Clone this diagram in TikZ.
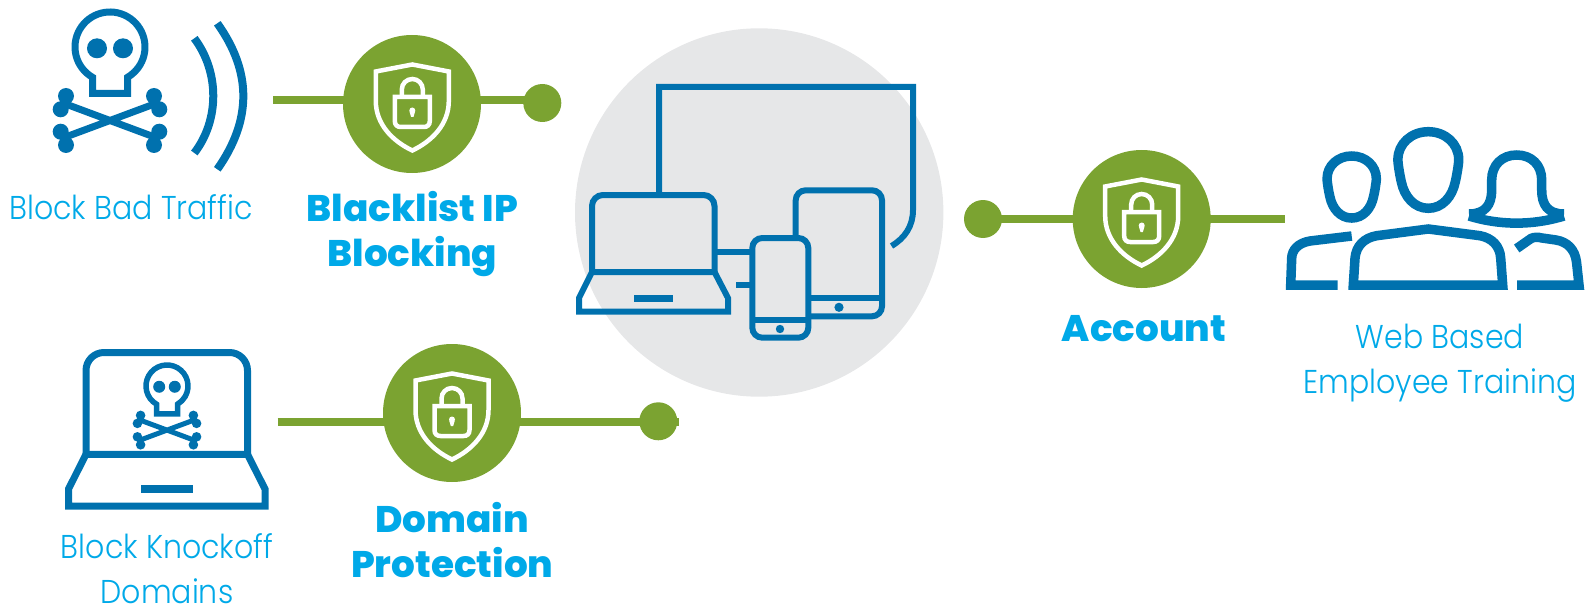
\documentclass[tikz,border=0pt]{standalone}
\usepackage{fontspec}
\setmainfont{Poppins Light}[FakeStretch=0.91]
\newfontfamily\boldface{Poppins ExtraBold}[FakeStretch=1.01]
\definecolor{iconblue}{HTML}{0071AE}
\definecolor{hubgreen}{HTML}{7BA331}
\definecolor{textblue}{HTML}{00A9E8}
\definecolor{disc}{HTML}{E6E7E8}
\tikzset{
  hub/.style={circle,fill=hubgreen,minimum size=138pt,inner sep=0pt},
  enddot/.style={circle,fill=hubgreen,minimum size=38pt,inner sep=0pt},
  link/.style={draw=hubgreen,line width=8pt,shorten <=-2pt,shorten >=-2pt},
  icon/.style={draw=iconblue,line width=6pt},
  person/.style={draw=iconblue,line width=9.5pt},
  thinlabel/.style={text=textblue,font=\fontsize{33}{45}\selectfont,align=center,inner sep=0pt,anchor=base},
  boldlabel/.style={text=textblue,font=\boldface\fontsize{37}{45}\selectfont,align=center,inner sep=0pt,anchor=base},
}
\newcommand\shieldlock[1]{
  \begin{scope}[shift={(#1)}]
    \draw[white,line width=4.5pt,miter limit=10] (0,-39.5) -- (36.5,-32.5) -- (36.5,-3)
      .. controls (36.5,20) and (20,37) .. (0,46.5)
      .. controls (-20,37) and (-36.5,20) .. (-36.5,-3) -- (-36.5,-32.5) -- cycle;
    \draw[white,line width=4.5pt] (-17.5,-7) -- (17.5,-7) -- (17.5,17)
      .. controls (17.5,21) and (15,23) .. (11.5,23) -- (-11.5,23)
      .. controls (-15,23) and (-17.5,21) .. (-17.5,17) -- cycle;
    \draw[white,line width=4.5pt] (-10.5,-7) -- (-10.5,-14.5) arc[start angle=180,end angle=360,radius=10.5] -- (10.5,-7);
    \fill[white] (0,6.5) circle[radius=3];
    \fill[white] (-2.8,7.5) -- (2.8,7.5) -- (1.2,13) -- (-1.2,13) -- cycle;
  \end{scope}
}
% x, y, scale, ring width, bone width
\newcommand\skullbones[5]{
  \begin{scope}[shift={(#1,#2)},scale=#3]
    \draw[draw=iconblue,line width=#4pt] (-17.5,30.3) arc[start angle=120,end angle=420,radius=35] -- (17.5,46.5) -- (-17.5,46.5) -- cycle;
    \fill[iconblue] (-13,1.3) circle[radius=10] (13,1.3) circle[radius=10];
    \draw[draw=iconblue,line width=#5pt] (-47,56) -- (47,91) (-47,91) -- (47,56);
    \fill[iconblue] (-44,49) circle[radius=8] (-49.3,62.3) circle[radius=8] (-49.3,84.7) circle[radius=8] (-44,98) circle[radius=8]
      (44,49) circle[radius=8] (49.3,62.3) circle[radius=8] (49.3,84.7) circle[radius=8] (44,98) circle[radius=8];
  \end{scope}
}
\newcommand\headshape[3]{
  \begin{scope}[shift={(#1,#2)},scale=#3]
    \draw[person] (0,0) .. controls (17,0) and (30.4,12) .. (30.4,28) .. controls (30.4,33) and (28,46) .. (27,50)
      .. controls (24,65) and (14,76.6) .. (0,76.6) .. controls (-14,76.6) and (-24,65) .. (-27,50)
      .. controls (-28,46) and (-30.4,33) .. (-30.4,28) .. controls (-30.4,12) and (-17,0) .. (0,0) -- cycle;
  \end{scope}
}
\begin{document}
\begin{tikzpicture}[x=1pt,y=-1pt]
\useasboundingbox (0,0) rectangle (1585,607);
% grey disc
\fill[disc] (759.2,212.5) circle[radius=184.2];
% top-left icon
\skullbones{110}{47}{1}{7}{7}
\draw[iconblue,line width=8pt] (194.3,38.3) .. controls (219.6,72) and (219.6,120) .. (194.3,153);
\draw[iconblue,line width=8pt] (217.3,23.3) .. controls (252,72) and (252,120) .. (217.3,169.3);
% bottom-left laptop
\draw[icon,line width=7pt,rounded corners=18pt] (86,454.3) -- (86,352.5) -- (247.5,352.5) -- (247.5,454.3);
\draw[icon,line width=7pt] (86,454.3) -- (247.5,454.3) -- (265,489) -- (265,506) -- (68.5,506) -- (68.5,489) -- cycle;
\fill[iconblue] (141.3,485.3) rectangle (192.7,492.7);
\skullbones{167}{386}{0.6}{5.5}{5}
% devices
\draw[icon] (659,195) -- (659,87) -- (913,87) -- (913,210) .. controls (913,226) and (905,238) .. (891.5,246);
\draw[icon,rounded corners=11pt] (592,272) -- (592,195) -- (714.5,195) -- (714.5,272);
\draw[icon] (592,272) -- (714.5,272) -- (728,298) -- (728,311.7) -- (579,311.7) -- (579,298) -- cycle;
\fill[iconblue] (634,295) rectangle (673,301.7);
\draw[icon] (717,252.3) -- (751.7,252.3) (736,285.3) -- (751.7,285.3);
\draw[icon,rounded corners=10pt] (752.3,238) rectangle (808.3,337.7);
\draw[icon] (752.3,320) -- (808.3,320);
\fill[iconblue] (780,329) circle[radius=4.2];
\draw[icon,rounded corners=10pt] (795.7,238) -- (795.7,190.3) -- (882,190.3) -- (882,316.3) -- (808.3,316.3);
\draw[icon] (808.3,297.7) -- (882,297.7);
\fill[iconblue] (839,307.3) circle[radius=4.6];
% hubs, dots and connectors
\node[hub] (hubA) at (412,104) {};
\node[enddot] (dotA) at (542.3,103) {};
\coordinate (startA) at (273.3,100.5);
\draw[link,shorten <=0pt] (startA) -- (startA -| hubA.west);
\draw[link] (hubA.east |- startA) -- (startA -| dotA.west);
\node[hub] (hubB) at (452,413) {};
\node[enddot] (dotB) at (658.3,421.3) {};
\coordinate (startB) at (277.7,421.5);
\coordinate (endB) at (679,421.5);
\draw[link,shorten <=0pt] (startB) -- (startB -| hubB.west);
\draw[link,shorten >=0pt] (hubB.east |- startB) -- (endB);
\node[hub] (hubC) at (1141.7,219) {};
\node[enddot] (dotC) at (983,219) {};
\coordinate (endC) at (1285,219);
\draw[link] (dotC) -- (hubC);
\draw[link,shorten >=0pt] (hubC.east) -- (endC);
\shieldlock{412.3,104}
\shieldlock{452,413}
\shieldlock{1141.7,219}
% people
\headshape{1351.7}{156}{0.81}
\headshape{1428.3}{131.7}{1}
\draw[person] (1469,214) .. controls (1485,214) and (1491.7,205) .. (1491.7,190) -- (1491.7,180)
  .. controls (1491.7,165) and (1502,155) .. (1516.7,155) .. controls (1531.4,155) and (1541.7,165) .. (1541.7,180)
  -- (1541.7,190) .. controls (1541.7,205) and (1548,214) .. (1564,214);
\draw[person] (1469,216) .. controls (1500,225.5) and (1533,225.5) .. (1564,216);
\draw[person] (1351.7,236) -- (1310,241) .. controls (1298,243) and (1292,250) .. (1291.7,258) -- (1290.7,285) -- (1337.7,285);
\draw[person] (1428.3,229) -- (1480,235.7) .. controls (1492,238) and (1500,246) .. (1500.7,258.3) -- (1502.7,285) -- (1353.3,285) -- (1355,258.3)
  .. controls (1356,246) and (1364,238) .. (1376.7,235.7) -- cycle;
\draw[person] (1516.7,248.5) -- (1531,238.5) .. controls (1534,237) and (1538,237) .. (1542,238) -- (1556,240)
  .. controls (1568,242) and (1575,250) .. (1576.5,262) -- (1579,285) -- (1517,285);
% labels
\node[thinlabel] (lblTraffic) at (131,219.3) {Block Bad Traffic};
\node[boldlabel] (lblBlacklist) at (412.5,266.7) {Blacklist IP\\Blocking};
\node[thinlabel] (lblKnock) at (167,603.5) {Block Knockoff\\Domains};
\node[boldlabel] (lblDomain) at (452.3,577.7) {Domain\\Protection};
\node[boldlabel] (lblAccount) at (1144,341) {Account};
\node[thinlabel] (lblWeb) at (1440,393.3) {Web Based\\Employee Training};
\end{tikzpicture}
\end{document}
